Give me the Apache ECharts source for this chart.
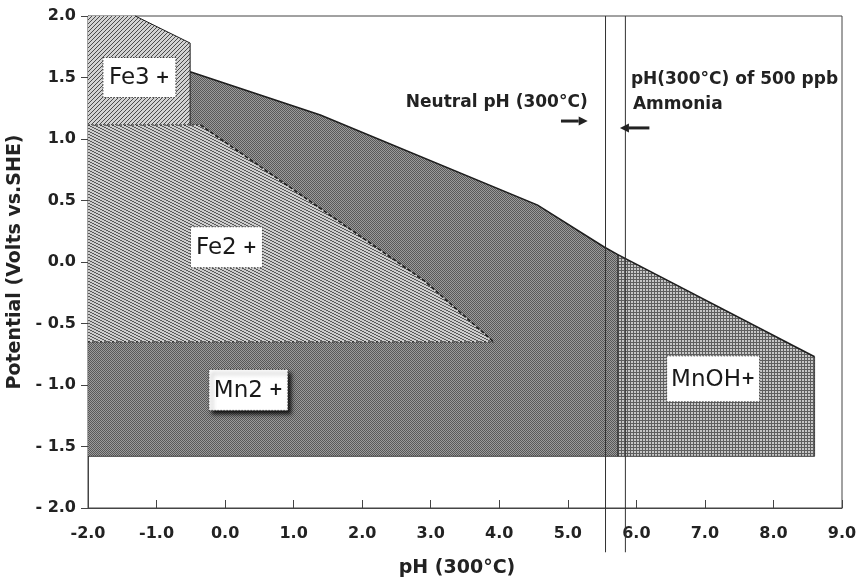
<!DOCTYPE html>
<html><head><meta charset="utf-8">
<script src="https://cdn.jsdelivr.net/npm/echarts@6/dist/echarts.min.js"></script>
<style>html,body{margin:0;padding:0;background:#fff}#c{width:856px;height:577px}</style>
</head><body><div id="c"></div>
<script>
// ---- axis ticks ----
const xTicks = [-2, -1, 0, 1, 2, 3, 4, 5, 6, 7, 8, 9];
const xTickLabels = ['-2.0', '-1.0', '0.0', '1.0', '2.0', '3.0', '4.0', '5.0', '6.0', '7.0', '8.0', '9.0'];
const yTicks = [-2, -1.5, -1, -0.5, 0, 0.5, 1, 1.5, 2];
const yTickLabels = ['- 2.0', '- 1.5', '- 1.0', '- 0.5', '0.0', '0.5', '1.0', '1.5', '2.0'];

// ---- region boundaries (pH, Volts) ----
const fe3Outline = [[-2, 2], [-1.31, 2], [-0.51, 1.78], [-0.51, 1.114], [-2, 1.114]];
const fe2Slope = [[-0.36, 1.114], [2.9, -0.15], [3.92, -0.65]];
const fe2Base = [[-2, -0.65], [-2, 1.114]];
const mn2Top = [[-0.51, 1.547], [1.39, 1.195], [4.56, 0.463], [5.53, 0.122], [5.73, 0.06]];
const mn2Bottom = [[5.73, -1.58], [-2, -1.58], [-2, -0.65]];
const mnohTop = [[5.73, 0.06], [8.6, -0.77]];
const mnohBottom = [[8.6, -1.58], [5.73, -1.58]];

// ---- region labels ----
const labelNames = ['Fe3', 'Fe2', 'Mn2', 'MnOH'];
const labelX = [-1.25, 0.02, 0.34, 7.12];
const labelY = [1.5, 0.12, -1.04, -0.95];

// ---- reference pH lines ----
const refLinesPH = [5.55, 5.84];

// ---- annotations ----
const noteTexts = ['Neutral pH (300°C)', 'pH(300°C) of 500 ppb', 'Ammonia'];
const noteX = [5.29, 5.92, 5.95];
const noteY = [1.293, 1.48, 1.276];
const arrowFrom = [[4.90, 1.146], [6.19, 1.09]];
const arrowTo = [[5.29, 1.146], [5.76, 1.09]];

function makePattern(w, h, bg, fg, pixels) {
  const c = document.createElement('canvas');
  c.width = w; c.height = h;
  const g = c.getContext('2d');
  g.fillStyle = bg; g.fillRect(0, 0, w, h);
  g.fillStyle = fg;
  pixels.forEach(p => g.fillRect(p[0], p[1], 1, 1));
  return { type: 'pattern', image: c, repeat: 'repeat' };
}
const patFe3 = makePattern(4, 4, '#d2d2d2', '#4a4a4a', [[3,0],[2,1],[1,2],[0,3]]);
const patFe2 = makePattern(6, 3, '#cdcdcd', '#5a5a5a', [[0,0],[1,0],[2,1],[3,1],[4,2],[5,2]]);
const patMn2 = makePattern(2, 2, '#9a9a9a', '#585858', [[0,0],[1,1]]);
const patMnOH = makePattern(3, 3, '#c6c6c6', '#5e5e5e', [[0,0],[1,0],[2,0],[0,1],[0,2]]);

const fe2Poly = fe2Slope.concat(fe2Base);
const mn2Poly = mn2Top.concat(mn2Bottom, fe2Slope.slice().reverse(), [[-0.51, 1.114]]);
const mnohPoly = mnohTop.concat(mnohBottom);

const regions = [
  { pts: mn2Poly, fill: patMn2 },
  { pts: mnohPoly, fill: patMnOH },
  { pts: fe2Poly, fill: patFe2 },
  { pts: fe3Outline, fill: patFe3 }
];
const edges = [
  { pts: mn2Top, dash: null, w: 1.5 },
  { pts: mnohTop, dash: null, w: 1.5 },
  { pts: fe2Slope, dash: [4, 2], w: 1.6 },
  { pts: [[-2, 1.114], [-0.36, 1.114]], dash: [2, 2], w: 1.2 },
  { pts: [[-2, -0.65], [3.92, -0.65]], dash: [2, 2], w: 1 },
  { pts: [[-1.31, 2], [-0.51, 1.78], [-0.51, 1.114]], dash: null, w: 1 },
  { pts: [[5.73, 0.06], [5.73, -1.58]], dash: null, w: 1 },
  { pts: [[8.6, -0.77], [8.6, -1.58], [-2, -1.58]], dash: null, w: 0.8 }
];
const boxSizes = [[73, 40], [72, 41], [79, 41], [93, 46]];

const chart = echarts.init(document.getElementById('c'), null, { renderer: 'canvas' });
const tickFont = { fontFamily: 'DejaVu Sans', fontWeight: 'bold', fontSize: 16, color: '#222' };

chart.setOption({
  animation: false,
  backgroundColor: '#fff',
  grid: { left: 88, right: 14, top: 16, bottom: 69, show: true, borderColor: '#444', borderWidth: 1,
          containLabel: false, outerBoundsMode: 'none' },
  xAxis: {
    type: 'value', min: -2, max: 9, interval: 1,
    name: 'pH (300°C)', nameLocation: 'middle', nameGap: 51,
    nameTextStyle: { fontFamily: 'DejaVu Sans', fontWeight: 'bold', fontSize: 19, color: '#222', padding: [0, 16, 0, 0] },
    axisLine: { onZero: false, lineStyle: { color: '#444', width: 1 } },
    axisTick: { inside: true, length: 8, lineStyle: { color: '#444' } },
    splitLine: { show: false },
    axisLabel: Object.assign({ margin: 18, hideOverlap: false, formatter: v => xTickLabels[xTicks.indexOf(v)] }, tickFont)
  },
  yAxis: {
    type: 'value', min: -2, max: 2, interval: 0.5,
    name: 'Potential (Volts vs.SHE)', nameLocation: 'middle', nameGap: 60,
    nameTextStyle: { fontFamily: 'DejaVu Sans', fontWeight: 'bold', fontSize: 19, color: '#222' },
    axisLine: { onZero: false, lineStyle: { color: '#444', width: 1 } },
    axisTick: { inside: false, length: 7, lineStyle: { color: '#444' } },
    splitLine: { show: false },
    axisLabel: Object.assign({ margin: 12, formatter: v => yTickLabels[yTicks.indexOf(v)] }, tickFont)
  },
  series: [
    {
      type: 'custom', name: 'regions', silent: true,
      data: regions.map(r => r.pts[0]),
      renderItem: (params, api) => {
        const r = regions[params.dataIndex];
        return { type: 'polygon', shape: { points: r.pts.map(p => api.coord(p)) }, style: { fill: r.fill } };
      }
    },
    {
      type: 'custom', name: 'edges', silent: true,
      data: edges.map(e => e.pts[0]),
      renderItem: (params, api) => {
        const e = edges[params.dataIndex];
        return { type: 'polyline', shape: { points: e.pts.map(p => api.coord(p)) },
          style: { stroke: '#1e1e1e', lineWidth: e.w, lineDash: e.dash, fill: null } };
      }
    },
    {
      type: 'custom', name: 'refLines', silent: true, clip: false,
      data: refLinesPH.map(v => [v, 0]),
      renderItem: (params, api) => {
        const a = api.coord([api.value(0), 2]);
        const b = api.coord([api.value(0), -2.36]);
        return { type: 'line', shape: { x1: a[0], y1: a[1], x2: b[0], y2: b[1] }, style: { stroke: '#333', lineWidth: 1 } };
      }
    },
    {
      type: 'custom', name: 'labels', silent: true, z: 5,
      data: labelX.map((x, i) => [x, labelY[i]]),
      renderItem: (params, api) => {
        const i = params.dataIndex;
        const c = api.coord([api.value(0), api.value(1)]);
        const w = boxSizes[i][0], h = boxSizes[i][1];
        const shadow = i === 2 ? { shadowColor: 'rgba(0,0,0,0.85)', shadowBlur: 4, shadowOffsetX: 3, shadowOffsetY: 4 } : {};
        return {
          type: 'group',
          children: [
            { type: 'rect', shape: { x: c[0] - w / 2, y: c[1] - h / 2, width: w, height: h },
              style: Object.assign({ fill: '#fff', stroke: '#444', lineWidth: 1, lineDash: [1.5, 1.5] }, shadow) },
            { type: 'text', x: c[0], y: c[1] + 1,
              style: { text: '{a|' + labelNames[i] + '}{b|' + (i === 3 ? '+' : ' +') + '}',
                align: 'center', verticalAlign: 'middle',
                rich: { a: { fontFamily: 'DejaVu Sans', fontSize: 23, fill: '#1a1a1a', color: '#1a1a1a' },
                        b: { fontFamily: 'DejaVu Sans', fontSize: 17, fontWeight: 'bold', fill: '#1a1a1a', color: '#1a1a1a' } } } }
          ]
        };
      }
    },
    {
      type: 'custom', name: 'notes', silent: true, z: 5,
      data: noteX.map((x, i) => [x, noteY[i]]),
      renderItem: (params, api) => {
        const i = params.dataIndex;
        const c = api.coord([api.value(0), api.value(1)]);
        return { type: 'text', x: c[0], y: c[1],
          style: { text: noteTexts[i], align: i === 0 ? 'right' : 'left', verticalAlign: 'middle',
            font: 'bold 17px "DejaVu Sans"', fill: '#222' } };
      }
    },
    {
      type: 'custom', name: 'arrows', silent: true, z: 5,
      data: arrowFrom.map((p, i) => [p[0], p[1], arrowTo[i][0], arrowTo[i][1]]),
      renderItem: (params, api) => {
        const a = api.coord([api.value(0), api.value(1)]);
        const b = api.coord([api.value(2), api.value(3)]);
        const dir = b[0] > a[0] ? 1 : -1;
        const hx = b[0] - dir * 9;
        return { type: 'group', children: [
          { type: 'line', shape: { x1: a[0], y1: a[1], x2: hx, y2: b[1] }, style: { stroke: '#222', lineWidth: 3 } },
          { type: 'polygon', shape: { points: [[b[0], b[1]], [hx, b[1] - 4.5], [hx, b[1] + 4.5]] }, style: { fill: '#222' } }
        ] };
      }
    }
  ]
});
</script></body></html>
